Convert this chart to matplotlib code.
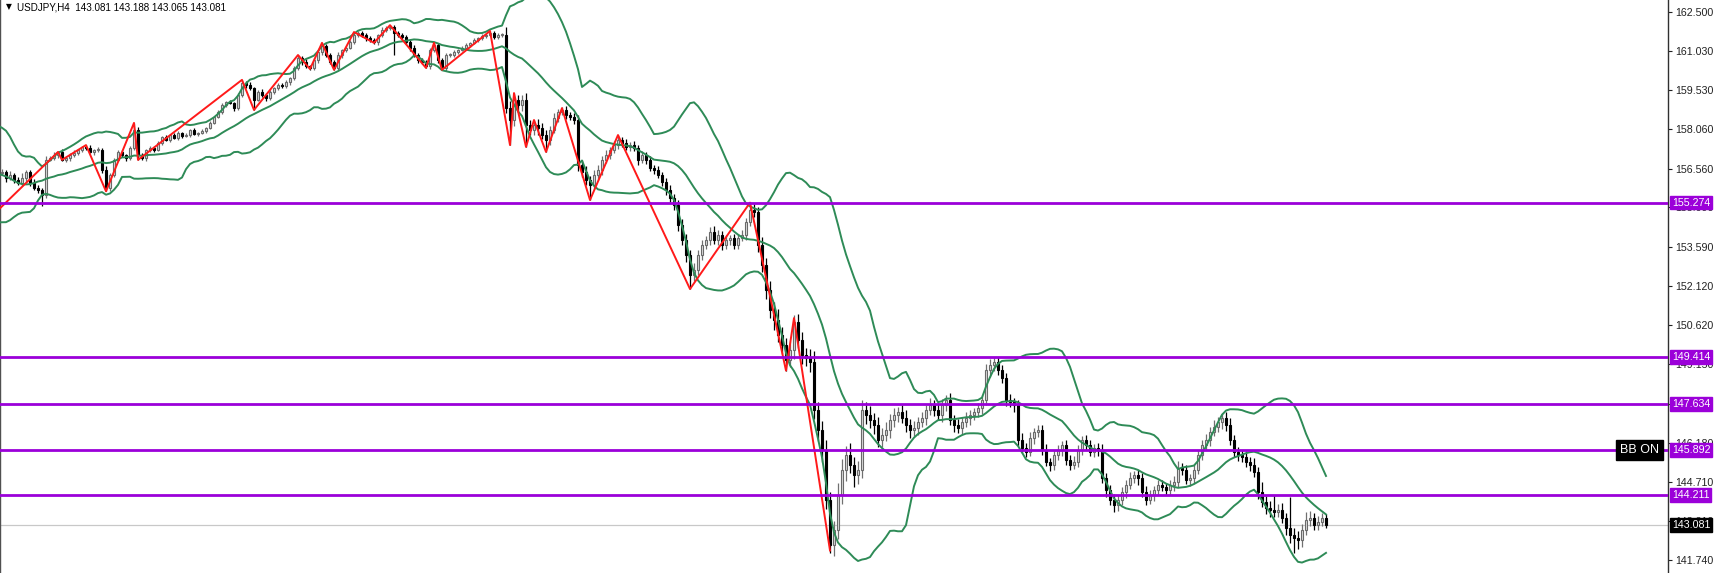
import numpy as np
import pandas as pd
import matplotlib
matplotlib.use("Agg")
import matplotlib.pyplot as plt
import matplotlib.transforms as mtransforms

# ---- data ----
# closes before the first visible bar, only needed to warm up the bands
pre_closes = [157.2, 157.3, 157.8, 157.9, 157.6, 157.1, 156.7, 155.8, 155.0, 154.6,
              154.9, 155.5, 156.0, 156.3, 156.1, 156.4, 156.2, 156.0, 156.3, 156.4]

closes = [
    156.43, 156.20, 156.32, 156.13, 156.01, 156.20, 156.43, 156.01, 155.82, 155.75,  # 0
    155.56, 156.89, 156.96, 157.07, 157.19, 156.89, 156.96, 157.07, 157.15, 157.26,  # 10
    157.38, 157.34, 157.19, 157.26, 157.26, 156.51, 155.82, 156.32, 156.89, 157.19,  # 20
    157.07, 156.96, 157.34, 158.02, 157.07, 156.96, 157.26, 157.34, 157.26, 157.53,  # 30
    157.76, 157.64, 157.83, 157.72, 157.91, 157.79, 157.83, 158.02, 157.87, 157.91,  # 40
    157.98, 158.10, 158.29, 158.51, 158.70, 158.97, 159.08, 159.04, 158.85, 159.35,  # 50
    159.80, 159.73, 159.61, 159.16, 159.46, 159.35, 159.23, 159.46, 159.61, 159.73,  # 60
    159.69, 159.84, 159.99, 160.37, 160.75, 160.60, 160.44, 160.37, 160.67, 160.97,  # 70
    161.20, 160.86, 160.60, 160.37, 160.86, 161.05, 161.13, 161.35, 161.62, 161.69,  # 80
    161.62, 161.50, 161.43, 161.35, 161.62, 161.81, 161.88, 161.92, 161.69, 161.62,  # 90
    161.54, 161.35, 161.13, 160.86, 160.67, 160.60, 160.44, 161.05, 161.24, 160.67,  # 100
    160.37, 160.86, 160.86, 160.97, 161.05, 161.13, 161.24, 161.32, 161.43, 161.50,  # 110
    161.58, 161.62, 161.69, 161.54, 161.62, 161.62, 158.85, 158.40, 159.16, 158.97,  # 120
    159.16, 158.21, 158.02, 158.21, 158.10, 157.83, 157.64, 158.02, 158.48, 158.70,  # 130
    158.78, 158.59, 158.51, 158.40, 156.70, 156.43, 156.13, 155.94, 156.32, 156.51,  # 140
    156.89, 157.07, 157.26, 157.45, 157.64, 157.53, 157.38, 157.45, 157.34, 156.89,  # 150
    157.07, 156.89, 156.58, 156.51, 156.32, 156.05, 155.75, 155.45, 155.18, 154.42,  # 160
    153.86, 153.29, 152.53, 152.72, 153.29, 153.67, 153.86, 154.16, 153.86, 154.05,  # 170
    153.67, 153.86, 153.93, 153.67, 153.93, 154.05, 154.54, 154.99, 154.92, 153.67,  # 180
    152.91, 151.96, 151.21, 150.83, 150.26, 149.88, 149.31, 149.69, 150.75, 150.07,  # 190
    149.50, 149.39, 149.24, 147.42, 146.66, 145.90, 144.01, 142.31, 142.87, 144.20,  # 200
    145.15, 145.71, 145.34, 144.96, 145.15, 147.42, 147.23, 147.04, 146.85, 146.28,  # 210
    146.47, 146.66, 147.04, 147.23, 147.34, 147.12, 146.85, 146.66, 146.74, 146.96,  # 220
    147.12, 147.42, 147.61, 147.42, 147.23, 147.61, 147.80, 147.04, 146.85, 146.74,  # 230
    146.96, 147.12, 147.23, 147.34, 147.49, 147.80, 148.93, 149.12, 149.24, 148.93,  # 240
    148.63, 147.80, 147.72, 147.61, 146.28, 145.98, 145.83, 146.36, 146.59, 146.66,  # 250
    145.90, 145.45, 145.34, 145.71, 145.90, 146.09, 145.53, 145.34, 145.45, 145.90,  # 260
    146.28, 146.09, 145.83, 145.98, 145.90, 144.84, 144.39, 144.01, 143.82, 144.01,  # 270
    144.31, 144.58, 144.84, 144.96, 144.84, 144.31, 144.01, 144.20, 144.39, 144.58,  # 280
    144.50, 144.39, 144.58, 144.69, 145.22, 145.15, 144.77, 144.84, 145.15, 145.71,  # 290
    146.09, 146.28, 146.59, 146.78, 146.96, 147.12, 146.85, 146.28, 145.83, 145.71,  # 300
    145.64, 145.45, 145.34, 145.07, 144.31, 143.94, 143.71, 143.63, 143.56, 143.63,  # 310
    143.33, 142.95, 142.69, 142.57, 142.50, 142.87, 143.25, 143.33, 143.06, 143.18,  # 320
    143.33, 143.08,                                                                  # 330
]

# shadow lengths above / below the body, in 0.01 yen
wick_up = [
    12, 8, 15, 6, 10, 18, 9, 7, 14, 10,  6, 14, 8, 10, 5, 12, 9, 7, 11, 6,
    5, 8, 12, 6, 10, 7, 14, 9, 6, 8,  9, 6, 8, 4, 12, 7, 5, 9, 6, 8,
    5, 7, 4, 8, 6, 5, 9, 4, 7, 5,  6, 4, 7, 5, 8, 6, 4, 9, 5, 7,
    8, 6, 9, 5, 7, 10, 6, 8, 5, 7,  6, 8, 5, 9, 7, 6, 10, 5, 8, 6,
    7, 9, 6, 8, 10, 5, 7, 9, 6, 8,  8, 6, 9, 7, 5, 10, 6, 8, 7, 9,
    6, 9, 7, 10, 8, 6, 9, 7, 10, 8,  9, 7, 6, 8, 5, 7, 6, 5, 8, 6,
    7, 6, 9, 8, 6, 7, 30, 25, 18, 20,  18, 25, 20, 15, 22, 18, 20, 15, 18, 12,
    12, 15, 10, 14, 20, 18, 22, 15, 18, 20,  15, 18, 12, 16, 14, 12, 15, 10, 14, 12,
    14, 12, 16, 10, 14, 12, 15, 18, 14, 20,  25, 22, 18, 25, 20, 18, 15, 20, 22, 18,
    15, 18, 12, 16, 14, 18, 15, 20, 22, 18,  30, 25, 35, 28, 40, 30, 25, 35, 25, 30,
    30, 25, 35, 40, 30, 35, 40, 30, 35, 45,  40, 35, 45, 30, 35, 25, 30, 35, 28, 30,
    25, 30, 22, 28, 20, 25, 30, 22, 25, 20,  22, 18, 25, 20, 28, 22, 18, 25, 20, 22,
    18, 22, 20, 15, 18, 20, 25, 22, 18, 20,  20, 18, 22, 15, 20, 25, 18, 22, 15, 18,
    18, 22, 15, 20, 18, 15, 20, 18, 22, 20,  15, 18, 20, 15, 18, 22, 18, 20, 22, 18,
    20, 18, 22, 15, 18, 20, 22, 18, 15, 20,  18, 15, 20, 22, 25, 18, 20, 15, 22, 20,
    18, 22, 20, 25, 18, 20, 22, 25, 20, 18,  20, 22, 18, 25, 20, 40, 22, 25, 20, 22,
    25, 20, 22, 25, 28, 22, 30, 25, 20, 22,  18, 15,
]
wick_dn = [
    9, 14, 6, 12, 8, 10, 15, 12, 7, 11,  8, 10, 6, 9, 12, 5, 8, 10, 6, 9,
    7, 9, 5, 11, 8, 12, 5, 10, 8, 6,  6, 10, 7, 9, 5, 8, 10, 6, 9, 5,
    6, 4, 8, 5, 7, 9, 4, 6, 5, 8,  5, 8, 4, 6, 5, 7, 9, 5, 12, 6,
    9, 12, 7, 10, 6, 8, 11, 6, 9, 7,  8, 6, 10, 7, 9, 12, 6, 8, 7, 10,
    10, 7, 9, 6, 8, 11, 7, 6, 9, 7,  7, 10, 6, 8, 12, 7, 9, 6, 10, 8,
    9, 7, 12, 8, 10, 9, 7, 11, 8, 10,  8, 10, 7, 6, 9, 5, 7, 6, 5, 7,
    6, 8, 5, 7, 6, 9, 20, 35, 22, 25,  22, 15, 20, 18, 25, 15, 20, 18, 12, 15,
    10, 14, 12, 15, 25, 20, 18, 22, 15, 18,  18, 12, 15, 10, 14, 16, 12, 15, 10, 18,
    12, 15, 10, 14, 12, 16, 18, 15, 20, 22,  20, 25, 15, 22, 18, 20, 16, 18, 15, 20,
    18, 15, 20, 14, 16, 12, 18, 15, 20, 25,  25, 35, 30, 40, 28, 35, 30, 28, 35, 30,
    35, 30, 40, 35, 40, 45, 35, 30, 40, 35,  35, 40, 30, 45, 35, 30, 35, 30, 35, 28,
    28, 22, 30, 25, 28, 20, 25, 30, 22, 25,  20, 25, 18, 22, 20, 25, 22, 18, 25, 20,
    22, 18, 25, 20, 18, 22, 20, 25, 22, 18,  18, 22, 20, 25, 22, 18, 20, 15, 22, 20,
    20, 15, 22, 18, 20, 22, 18, 20, 15, 18,  18, 20, 15, 18, 22, 20, 25, 18, 20, 22,
    18, 22, 15, 20, 25, 18, 20, 15, 22, 18,  15, 20, 18, 22, 18, 20, 15, 22, 18, 15,
    20, 18, 22, 15, 20, 25, 22, 18, 20, 22,  18, 20, 22, 18, 25, 20, 22, 25, 18, 20,
    20, 25, 30, 22, 35, 25, 20, 22, 18, 20,  15, 12,
]

wick_highs = {21: 157.45, 33: 158.29, 60: 159.92, 74: 160.86, 80: 161.32, 88: 161.73,
              97: 161.99, 108: 161.32, 122: 161.77, 128: 159.42, 133: 158.40, 140: 158.85,
              154: 157.83, 187: 155.27, 198: 150.90, 215: 147.80, 248: 149.39,
              318: 144.20, 322: 144.11}
wick_lows = {10: 155.14, 26: 155.70, 34: 156.89, 63: 158.78, 77: 160.33, 83: 160.30,
             93: 161.32, 98: 160.86, 106: 160.37, 110: 160.30, 127: 157.45, 131: 157.38,
             136: 157.19, 147: 155.37, 172: 152.00, 196: 148.91, 207: 142.10,
             278: 143.56, 323: 142.00}

# zigzag pivots (bar index, price)
zz_bars = [-3, 14, 15, 21, 26, 33, 34, 60, 63, 74, 77, 80, 83, 88, 93, 97, 106, 108,
           110, 122, 127, 128, 131, 133, 136, 140, 147, 154, 172, 187, 196, 198, 207]
zz_prices = [154.69, 157.19, 156.89, 157.45, 155.70, 158.29, 156.89, 159.92, 158.78,
             160.86, 160.33, 161.32, 160.30, 161.73, 161.32, 161.99, 160.37, 161.32,
             160.30, 161.77, 157.45, 159.42, 157.38, 158.40, 157.19, 158.85, 155.37,
             157.83, 152.00, 155.27, 148.91, 150.90, 142.10]

level_prices = [155.274, 149.414, 147.634, 145.892, 144.211]
last_price = 143.081
tick_values = [162.500, 161.030, 159.530, 158.060, 156.560, 155.090, 153.590, 152.120,
               150.620, 149.150, 147.650, 146.180, 144.710, 143.210, 141.740]
title = "USDJPY,H4  143.081 143.188 143.065 143.081"

# ---- figure ----
W, H = 1715, 573
FONT = "Liberation Sans"
PURPLE = "#9b00d9"
GREEN = "#2e8b57"

fig = plt.figure(figsize=(W / 100, H / 100), dpi=100)
fig.patch.set_facecolor("white")
ax = fig.add_axes([0, 0, 1668 / W, 1])
ax.set_xlim(-0.5, 416.5)
ax.set_ylim(141.248, 162.943)

n = len(closes)
x = np.arange(n)
c = np.array(closes)
o = np.array([pre_closes[-1]] + closes[:-1])
hi = np.maximum(o, c) + np.array(wick_up) / 100.0
lo = np.minimum(o, c) - np.array(wick_dn) / 100.0
for i, v in wick_highs.items():
    hi[i] = max(hi[i], v)
for i, v in wick_lows.items():
    lo[i] = min(lo[i], v)

up = c >= o
dn = ~up
body_w = 0.72
# wicks
ax.vlines(x[up], lo[up], hi[up], color="#707070", lw=0.9, zorder=2)
ax.vlines(x[dn], lo[dn], hi[dn], color="black", lw=0.9, zorder=2)
# bodies
hgt = np.maximum(np.abs(c - o), 0.025)
bot = np.minimum(o, c)
ax.bar(x[up], hgt[up], bottom=bot[up], width=body_w, color="#dcdcdc",
       edgecolor="#6a6a6a", linewidth=0.8, zorder=3)
ax.bar(x[dn], hgt[dn], bottom=bot[dn], width=body_w, color="black",
       edgecolor="black", linewidth=0.8, zorder=3)

# bollinger bands (20, 2)
allc = pd.Series(pre_closes + closes, index=np.arange(-len(pre_closes), n))
mid = allc.rolling(20).mean()
sd = allc.rolling(20).std(ddof=0)
for band in (mid, mid + 2 * sd, mid - 2 * sd):
    ax.plot(band.index, band.values, color=GREEN, lw=1.4, zorder=4)

# zigzag
ax.plot(zz_bars, zz_prices, color="#ff1a1a", lw=1.4, zorder=5)

# current price line
ax.axhline(last_price, color="#c8c8c8", lw=0.9, zorder=1)

# levels
for p in level_prices:
    ax.axhline(p, color=PURPLE, lw=2.0, zorder=6)

# axes look
for side in ("top", "bottom"):
    ax.spines[side].set_visible(False)
ax.spines["left"].set_color("#505050")
ax.spines["left"].set_linewidth(1.0)
ax.spines["right"].set_color("#303030")
ax.spines["right"].set_linewidth(1.0)
ax.set_xticks([])
ax.yaxis.tick_right()
ax.set_yticks(tick_values)
ax.set_yticklabels([f"{v:.3f}" for v in tick_values], fontsize=7.7,
                   family=FONT, color="#222222")
ax.tick_params(axis="y", length=3, width=0.8, pad=2, colors="#222222")

trans = mtransforms.blended_transform_factory(ax.transAxes, ax.transData)
for p in level_prices:
    ax.annotate(f"{p:.3f}", xy=(1, p), xycoords=trans, xytext=(4, 0),
                textcoords="offset pixels", ha="left", va="center",
                fontsize=7.7, family=FONT, color="white", zorder=10,
                annotation_clip=False,
                bbox=dict(boxstyle="square,pad=0.18", fc=PURPLE, ec=PURPLE))
ax.annotate(f"{last_price:.3f}", xy=(1, last_price), xycoords=trans, xytext=(4, 0),
            textcoords="offset pixels", ha="left", va="center",
            fontsize=7.7, family=FONT, color="white", zorder=10,
            annotation_clip=False,
            bbox=dict(boxstyle="square,pad=0.18", fc="black", ec="black"))
ax.annotate("BB ON", xy=(1, level_prices[3]), xycoords=trans, xytext=(-9, 0),
            textcoords="offset pixels", ha="right", va="center",
            fontsize=9, family=FONT, color="white", zorder=10,
            bbox=dict(boxstyle="square,pad=0.32", fc="black", ec="black"))

# header
fig.text(6 / W, 1 - 7 / H, "\u25bc", fontsize=5.5, family="DejaVu Sans",
         color="black", va="center", ha="left")
fig.text(17 / W, 1 - 7 / H, title, fontsize=7.1, family=FONT,
         color="black", va="center", ha="left")

fig.savefig("out.png", dpi=100, facecolor="white")
